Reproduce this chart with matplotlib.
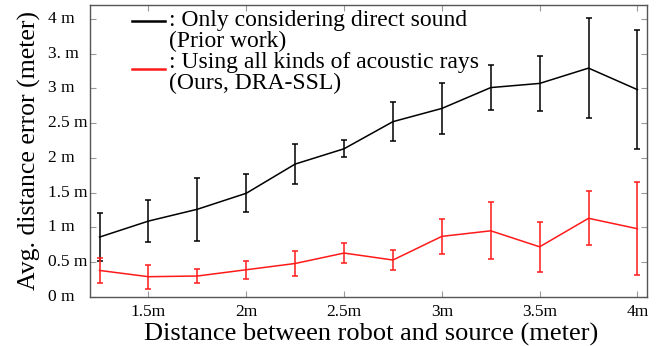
import numpy as np
import matplotlib.pyplot as plt
import matplotlib.transforms as mtransforms
from matplotlib.lines import Line2D

plt.rcParams['font.family'] = ['Liberation Serif', 'DejaVu Serif']

# distances between robot and source (meter)
dist = [1.25, 1.5, 1.75, 2.0, 2.25, 2.5, 2.75, 3.0, 3.25, 3.5, 3.75, 4.0]

# prior work: only direct sound
direct_mean = [0.86, 1.09, 1.26, 1.49, 1.91, 2.13, 2.52, 2.71, 3.01, 3.07, 3.29, 2.98]
direct_err = [0.34, 0.30, 0.45, 0.27, 0.29, 0.12, 0.28, 0.37, 0.32, 0.39, 0.72, 0.86]

# ours: all kinds of acoustic rays
dra_mean = [0.38, 0.29, 0.30, 0.39, 0.48, 0.63, 0.53, 0.87, 0.95, 0.72, 1.13, 0.98]
dra_err = [0.18, 0.17, 0.10, 0.13, 0.18, 0.14, 0.14, 0.25, 0.41, 0.36, 0.39, 0.67]

xticks = [1.5, 2.0, 2.5, 3.0, 3.5, 4.0]
xtick_labels = ['1.5m', '2m', '2.5m', '3m', '3.5m', '4m']
yticks = [0, 0.5, 1, 1.5, 2, 2.5, 3, 3.5, 4]
ytick_labels = ['0 m', '0.5 m', '1 m', '1.5 m', '2 m', '2.5 m', '3 m', '3. m', '4 m']

fig = plt.figure(figsize=(6.7, 3.46), dpi=100)
ax = fig.add_axes([0.134, 0.142, 0.832, 0.844])

ax.errorbar(dist, direct_mean, yerr=direct_err, color='black', lw=1.1,
            elinewidth=1.1, capsize=2, capthick=1.1)
ax.errorbar(dist, dra_mean, yerr=dra_err, color='#ff1a1a', lw=1.1,
            elinewidth=1.1, capsize=2, capthick=1.1)

ax.set_xlim(1.2, 4.05)
ax.set_ylim(0, 4.2)
ax.set_xticks(xticks)
ax.set_xticklabels(xtick_labels)
ax.set_yticks(yticks)

ax.tick_params(direction='in', top=True, right=True, length=4,
               color='#999999', labelsize=12.5)
ax.tick_params(axis='y', labelleft=False)
ax.tick_params(axis='x', pad=5)

# y tick labels are left-aligned in a column
ytrans = mtransforms.blended_transform_factory(ax.transAxes, ax.transData)
for yv, lab in zip(yticks, ytick_labels):
    ax.text(-0.075, yv, lab, transform=ytrans, ha='left', va='center',
            fontsize=12.5, clip_on=False)

for sp in ax.spines.values():
    sp.set_color('#555555')
    sp.set_linewidth(1.0)

ax.set_xlabel('Distance between robot and source (meter)', fontsize=19, va='top')
ax.xaxis.set_label_coords(0.505, -0.088)
ax.set_ylabel('Avg. distance error (meter)', fontsize=18.5)
ax.yaxis.set_label_coords(-0.088, 0.5)

# hand-made legend with two-line labels
ax.add_line(Line2D([0.075, 0.135], [0.943, 0.943], color='black', lw=1.8,
                   transform=ax.transAxes))
ax.add_line(Line2D([0.075, 0.135], [0.781, 0.781], color='#ff1a1a', lw=1.8,
                   transform=ax.transAxes))
ax.text(0.142, 0.983, ': Only considering direct sound\n(Prior work)',
        transform=ax.transAxes, va='top', ha='left', fontsize=17, linespacing=1.0)
ax.text(0.142, 0.839, ': Using all kinds of acoustic rays\n(Ours, DRA-SSL)',
        transform=ax.transAxes, va='top', ha='left', fontsize=17, linespacing=1.0)

fig.savefig('out.png', dpi=100)
